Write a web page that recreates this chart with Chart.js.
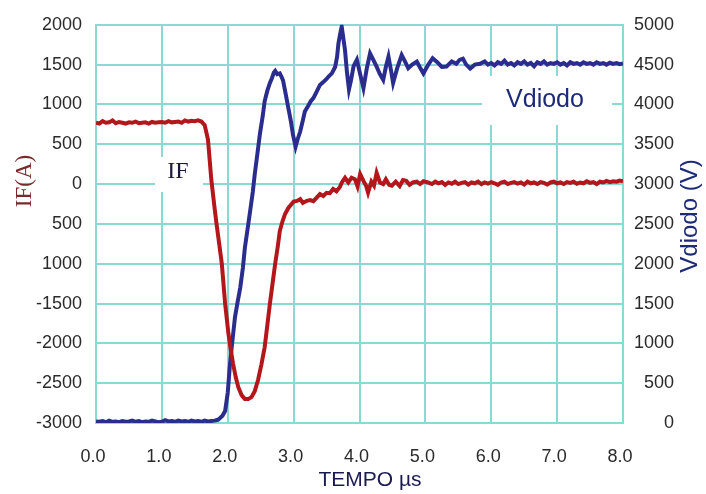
<!DOCTYPE html>
<html>
<head>
<meta charset="utf-8">
<script src="https://cdn.jsdelivr.net/npm/chart.js@4.4.1/dist/chart.umd.min.js"></script>
<style>
  html, body { margin: 0; padding: 0; background: #fff; }
  #wrap { width: 706px; height: 494px; }
</style>
</head>
<body>
<div id="wrap"><canvas id="diodoChart" width="706" height="494"></canvas></div>
<script>
// corrente IF (A) - tempi in µs
const tIF = [
  0.00, 0.05, 0.10, 0.15, 0.20, 0.25, 0.30, 0.35, 0.40, 0.45, 0.50, 0.55, 0.60, 0.65, 0.70, 0.75,
  0.80, 0.85, 0.90, 0.95, 1.00, 1.05, 1.10, 1.15, 1.20, 1.25, 1.30, 1.35, 1.40, 1.45, 1.50, 1.55,
  1.60, 1.65, 1.70, 1.75, 1.80, 1.83, 1.87, 1.91, 1.96, 2.01, 2.04, 2.08, 2.12, 2.16, 2.21, 2.26,
  2.31, 2.36, 2.41, 2.46, 2.51, 2.56, 2.60, 2.64, 2.68, 2.72, 2.76, 2.79, 2.83, 2.87, 2.92, 2.97,
  3.00, 3.05, 3.10, 3.14, 3.20, 3.25, 3.30, 3.35, 3.40, 3.45, 3.50, 3.55, 3.60, 3.65, 3.70, 3.73,
  3.78, 3.83, 3.88, 3.93, 3.97, 4.01, 4.06, 4.10, 4.13, 4.18, 4.22, 4.26, 4.31, 4.36, 4.40, 4.45,
  4.49, 4.55, 4.61, 4.66, 4.71, 4.76, 4.81, 4.87, 4.92, 4.97, 5.04, 5.10, 5.15, 5.20, 5.25, 5.30,
  5.35, 5.40, 5.45, 5.50, 5.55, 5.60, 5.65, 5.70, 5.75, 5.80, 5.85, 5.90, 5.95, 6.00, 6.05, 6.10,
  6.15, 6.20, 6.25, 6.30, 6.35, 6.40, 6.45, 6.50, 6.55, 6.60, 6.65, 6.70, 6.75, 6.80, 6.85, 6.90,
  6.95, 7.00, 7.05, 7.10, 7.15, 7.20, 7.25, 7.30, 7.35, 7.40, 7.45, 7.50, 7.55, 7.60, 7.65, 7.70,
  7.75, 7.80, 7.85, 7.90, 7.95, 8.00
];
const ifA = [
  770, 760, 790, 770, 775, 800, 765, 780, 770, 760, 775, 770, 785, 765, 770, 775,
  760, 780, 770, 775, 780, 770, 790, 775, 780, 785, 770, 800, 785, 795, 790, 800,
  785, 740, 560, 60, -300, -500, -750, -1000, -1500, -1875, -2050, -2250, -2420, -2550, -2650, -2700,
  -2700, -2675, -2600, -2460, -2270, -2050, -1780, -1500, -1250, -1000, -780, -590, -470, -375, -300, -250,
  -220, -212, -190, -237, -210, -200, -215, -170, -125, -150, -110, -115, -62, -90, -40, 17,
  79, 20, 80, 62, -30, 125, 40, -20, -108, 30, -20, 142, 20, 0, 60, -10,
  -20, 30, -25, 50, 40, -10, 20, 30, 0, 35, 20, 0, 30, 10, 25, -10,
  20, 5, 30, 0, 15, 25, -5, 20, 10, 30, 0, 20, 5, 25, 10, -10,
  20, 30, 0, 15, 25, 5, 20, -5, 30, 10, 20, 0, 25, 15, -5, 20,
  30, 10, 20, 0, 25, 15, 30, 5, 20, 10, 35, 15, 25, 0, 30, 20,
  40, 25, 35, 30, 45, 35
];

// tensione Vdiodo (V)
const tV = [
  0.00, 0.05, 0.10, 0.15, 0.20, 0.25, 0.30, 0.35, 0.40, 0.45, 0.50, 0.55, 0.60, 0.65, 0.70, 0.75,
  0.80, 0.85, 0.90, 0.95, 1.00, 1.05, 1.10, 1.15, 1.20, 1.25, 1.30, 1.35, 1.40, 1.45, 1.50, 1.55,
  1.60, 1.65, 1.70, 1.75, 1.80, 1.85, 1.88, 1.92, 1.96, 2.00, 2.03, 2.06, 2.11, 2.15, 2.19, 2.23,
  2.26, 2.30, 2.34, 2.38, 2.41, 2.45, 2.49, 2.53, 2.56, 2.60, 2.64, 2.67, 2.70, 2.72, 2.75, 2.79,
  2.82, 2.84, 2.88, 2.92, 2.96, 2.99, 3.03, 3.06, 3.10, 3.14, 3.17, 3.22, 3.26, 3.30, 3.35, 3.40,
  3.45, 3.50, 3.53, 3.58, 3.63, 3.66, 3.68, 3.71, 3.73, 3.76, 3.78, 3.81, 3.84, 3.87, 3.91, 3.96,
  4.01, 4.06, 4.11, 4.16, 4.21, 4.26, 4.31, 4.36, 4.40, 4.44, 4.48, 4.51, 4.57, 4.64, 4.69, 4.74,
  4.80, 4.87, 4.92, 4.97, 5.04, 5.11, 5.18, 5.25, 5.32, 5.40, 5.47, 5.52, 5.57, 5.62, 5.68, 5.75,
  5.83, 5.90, 5.95, 6.00, 6.05, 6.10, 6.15, 6.20, 6.25, 6.30, 6.35, 6.40, 6.45, 6.50, 6.55, 6.60,
  6.65, 6.70, 6.75, 6.80, 6.85, 6.90, 6.95, 7.00, 7.05, 7.10, 7.15, 7.20, 7.25, 7.30, 7.35, 7.40,
  7.45, 7.50, 7.55, 7.60, 7.65, 7.70, 7.75, 7.80, 7.85, 7.90, 7.95, 8.00
];
const vDiodo = [
  20, 15, 25, 10, 30, 15, 20, 10, 25, 15, 20, 30, 15, 25, 10, 20,
  15, 30, 20, 10, 15, 35, 20, 25, 15, 30, 20, 25, 15, 30, 20, 25,
  15, 30, 20, 25, 30, 40, 60, 90, 150, 380, 700, 950, 1330, 1520, 1700, 1950,
  2200, 2430, 2662, 2900, 3125, 3380, 3640, 3850, 4040, 4170, 4270, 4330, 4400, 4420, 4380, 4390,
  4340, 4300, 4130, 3955, 3780, 3620, 3470, 3560, 3660, 3800, 3910, 3980, 4040, 4080, 4160, 4245,
  4280, 4320, 4350, 4390, 4470, 4600, 4766, 4900, 4975, 4800, 4683, 4400, 4190, 4300, 4480, 4560,
  4380, 4204, 4450, 4640, 4560, 4475, 4380, 4308, 4470, 4600, 4420, 4270, 4450, 4620, 4540, 4454,
  4500, 4537, 4460, 4390, 4495, 4580, 4530, 4470, 4475, 4540, 4510, 4560, 4575, 4500, 4450, 4500,
  4510, 4540, 4500, 4520, 4490, 4530, 4510, 4550, 4500, 4520, 4490, 4530, 4510, 4540, 4500, 4520,
  4480, 4530, 4510, 4540, 4500, 4520, 4510, 4530, 4500, 4520, 4490, 4530, 4510, 4520, 4500, 4530,
  4510, 4520, 4500, 4530, 4510, 4520, 4500, 4525, 4510, 4520, 4505, 4515
];

// etichette asse sinistro, dal basso verso l'alto
const ifTicks = [-3000, -2500, -2000, -1500, -1000, -500, 0, 500, 1000, 1500, 2000];
const ifTickLabels = ['-3000', '-2500', '-2000', '-1500', '1000', '500', '0', '500', '1000', '1500', '2000'];

const GRID = '#8ad9d3';
const TICK_FONT = { family: 'Liberation Sans, Arial, sans-serif', size: 18 };

function pairs(xs, ys) {
  return xs.map((x, i) => ({ x: x, y: ys[i] }));
}

// titoli degli assi ed etichette nel grafico
const annotazioni = {
  id: 'annotazioni',
  beforeDatasetsDraw(chart) {
    const ctx = chart.ctx;
    ctx.save();
    ctx.fillStyle = '#fff';
    ctx.fillRect(155, 157, 48, 35);
    ctx.fillRect(482, 76, 130, 49);
    ctx.restore();
  },
  afterDraw(chart) {
    const ctx = chart.ctx;
    ctx.save();
    ctx.textAlign = 'center';
    ctx.textBaseline = 'middle';

    ctx.fillStyle = '#1a1a40';
    ctx.font = '24px "Liberation Serif", "Times New Roman", serif';
    ctx.fillText('IF', 178, 172);

    ctx.fillStyle = '#1c2a78';
    ctx.font = '25px "Liberation Sans", Arial, sans-serif';
    ctx.fillText('Vdiodo', 545, 100);

    ctx.fillStyle = '#1a1a50';
    ctx.font = '21px "Liberation Sans", Arial, sans-serif';
    ctx.fillText('TEMPO µs', 370, 480);

    ctx.save();
    ctx.translate(25, 181);
    ctx.rotate(-Math.PI / 2);
    ctx.fillStyle = '#7a2a2a';
    ctx.font = '23px "Liberation Serif", "Times New Roman", serif';
    ctx.fillText('IF(A)', 0, 0);
    ctx.restore();

    ctx.save();
    ctx.translate(690, 216);
    ctx.rotate(-Math.PI / 2);
    ctx.fillStyle = '#1c2a78';
    ctx.font = '24px "Liberation Sans", Arial, sans-serif';
    ctx.fillText('Vdiodo (V)', 0, 0);
    ctx.restore();

    ctx.restore();
  }
};

new Chart(document.getElementById('diodoChart'), {
  type: 'line',
  data: {
    datasets: [
      {
        label: 'IF',
        data: pairs(tIF, ifA),
        yAxisID: 'y',
        borderColor: '#b3161b',
        borderWidth: 4,
        pointRadius: 0,
        tension: 0
      },
      {
        label: 'Vdiodo',
        data: pairs(tV, vDiodo),
        yAxisID: 'y1',
        borderColor: '#2b2d8e',
        borderWidth: 4,
        pointRadius: 0,
        tension: 0
      }
    ]
  },
  options: {
    responsive: false,
    devicePixelRatio: 1,
    animation: false,
    // il margine destro lascia spazio al titolo verticale "Vdiodo (V)"
    layout: { padding: { top: 23, left: 0, right: 32, bottom: 0 } },
    plugins: { legend: { display: false }, tooltip: { enabled: false } },
    scales: {
      x: {
        type: 'linear',
        min: 0,
        max: 8,
        grid: { color: GRID, lineWidth: 2, drawTicks: false },
        border: { color: GRID, width: 2 },
        ticks: {
          stepSize: 1,
          padding: 23,
          labelOffset: -3,
          color: '#2a2a2a',
          font: TICK_FONT,
          callback: v => v.toFixed(1)
        },
        afterFit: s => { s.height = 71; }
      },
      y: {
        position: 'left',
        min: -3000,
        max: 2000,
        grid: { color: GRID, lineWidth: 2, drawTicks: false },
        border: { color: GRID, width: 2 },
        ticks: {
          stepSize: 500,
          padding: 14,
          color: '#2a2a2a',
          font: TICK_FONT,
          callback: v => ifTickLabels[ifTicks.indexOf(v)]
        },
        afterFit: s => { s.width = 96; }
      },
      y1: {
        position: 'right',
        min: 0,
        max: 5000,
        grid: { display: false, drawTicks: false },
        border: { color: GRID, width: 2 },
        ticks: {
          stepSize: 500,
          padding: 10,
          crossAlign: 'far',
          color: '#2a2a2a',
          font: TICK_FONT,
          callback: v => String(v)
        },
        afterFit: s => { s.width = 51; }
      }
    }
  },
  plugins: [annotazioni]
});
</script>
</body>
</html>
